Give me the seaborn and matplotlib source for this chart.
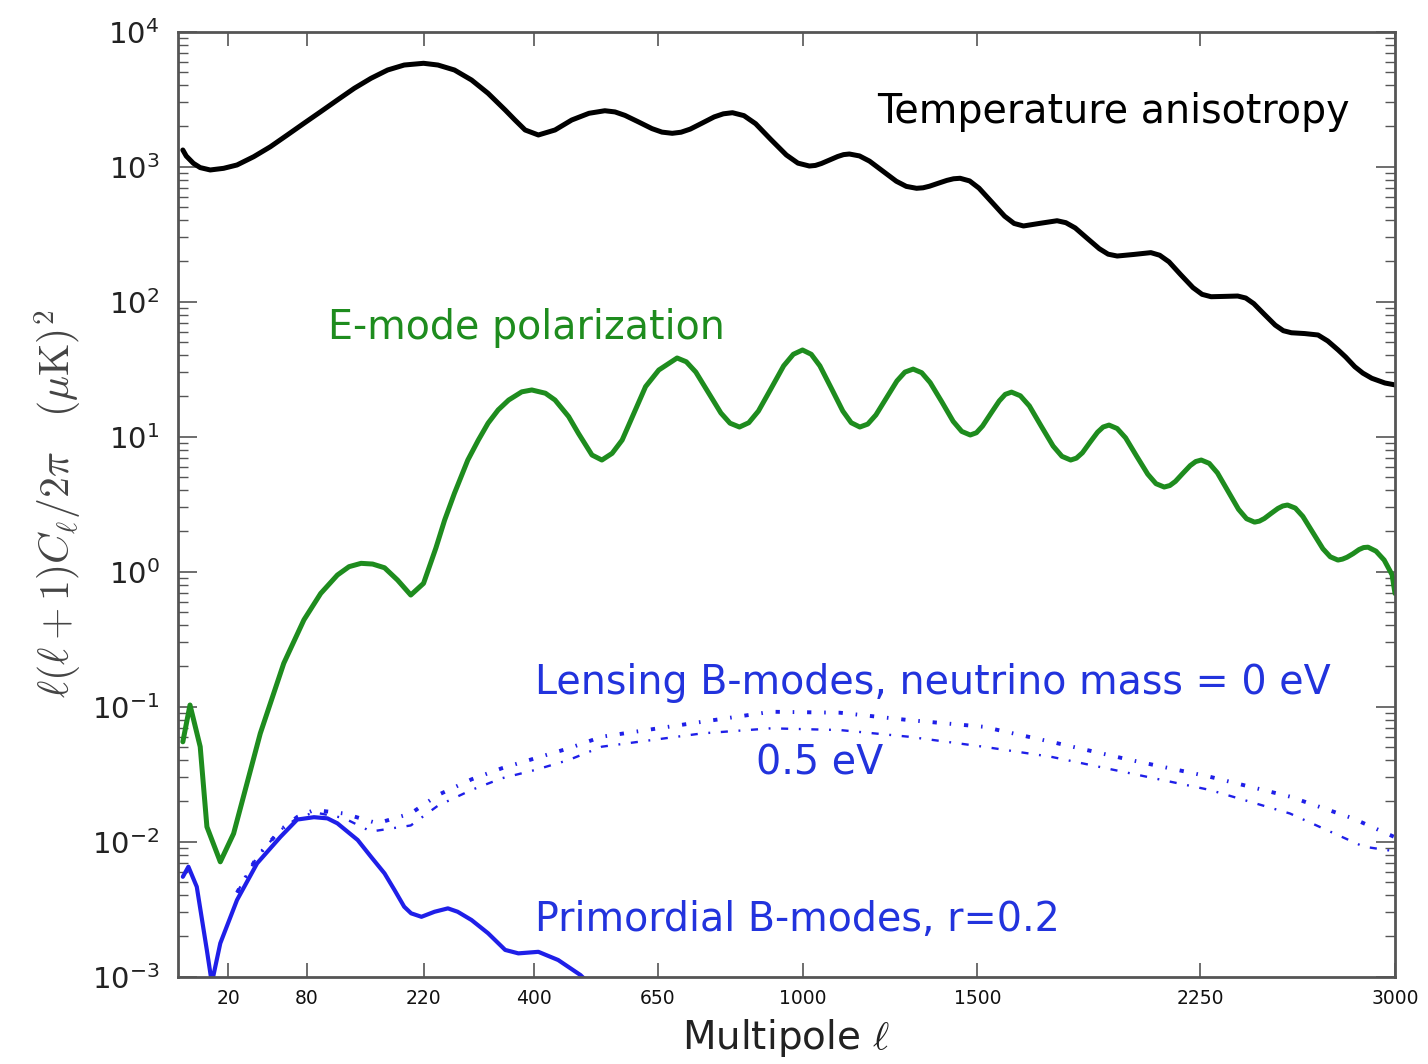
import numpy as np
import matplotlib
matplotlib.use("Agg")
import matplotlib.pyplot as plt
import seaborn as sns
from matplotlib.ticker import (NullLocator, FixedLocator, FixedFormatter,
                               NullFormatter, LogFormatterSciNotation)

# ---------------- data ----------------
ell_T = [2, 2.8, 4.8, 7.1, 11.1, 17.5, 25, 35.8, 48.1, 62, 77, 93.4, 111, 130, 150, 171, 193,
         220, 241, 266, 293, 320, 349, 366, 384, 408, 439, 471, 505,
         537, 558, 579, 608, 637, 659, 682, 702, 723, 751, 779, 801,
         823, 851, 880, 918, 958, 988, 1018, 1034, 1050, 1072, 1094, 1110,
         1126, 1154, 1182, 1220, 1258, 1287, 1317, 1336, 1355, 1381, 1407, 1427,
         1447, 1476, 1505, 1545, 1585, 1615, 1645, 1699, 1754, 1783, 1814, 1854,
         1895, 1925, 1956, 2014, 2073, 2104, 2137, 2179, 2223, 2256, 2289, 2337,
         2387, 2417, 2447, 2487, 2528, 2559, 2590, 2641, 2693, 2731, 2772, 2802,
         2838, 2870, 2906, 2959, 3000]
cl_T = [1330, 1200, 1060, 985, 946, 973, 1030, 1186, 1406, 1718, 2096, 2555, 3120, 3808, 4517,
        5204, 5665, 5835, 5665, 5204, 4387, 3497, 2630, 2218, 1871, 1718, 1871, 2218, 2487,
        2598, 2546, 2399, 2144, 1915, 1804, 1768, 1801, 1899, 2107, 2338, 2465,
        2512, 2390, 2082, 1594, 1221, 1063, 1012, 1022, 1056, 1121, 1190, 1229,
        1242, 1202, 1100, 926, 781, 715, 692, 698, 717, 754, 792, 814,
        821, 785, 694, 546, 430, 380, 364, 381, 398, 385, 352, 295,
        247, 225, 218, 224, 231, 221, 197.5, 158.5, 127.2, 113.4, 108.9, 109.5,
        110.2, 106.5, 96.8, 80.6, 67.1, 61.0, 58.9, 58.1, 56.7, 51.2, 43.9, 38.9,
        33.0, 29.6, 27.1, 25.0, 24.2]

ell_E = [2, 3.8, 7.1, 9.7, 15.8, 23, 40.5, 59, 77, 93.4, 111, 124, 138, 152, 167, 184,
         202, 220, 238,
         251, 266, 287, 304, 320, 337, 355, 378, 396, 421, 439, 465, 484, 511, 531, 552,
         573, 601, 623, 652,
         693, 714, 736, 765, 795, 817, 840, 863, 887, 919, 951, 976,
         1000, 1023, 1046, 1077, 1108, 1131, 1155, 1177, 1200, 1230, 1260, 1283,
         1307, 1332, 1357, 1392, 1426, 1452, 1478, 1497, 1516, 1542, 1568, 1587,
         1607, 1635, 1664, 1702, 1741, 1770, 1799, 1818, 1838, 1863, 1889, 1908,
         1928, 1956, 1985, 2023, 2062, 2091, 2120, 2140, 2160, 2186, 2213, 2233,
         2253, 2282, 2312, 2351, 2390, 2420, 2450, 2468, 2487, 2512, 2538, 2557,
         2575, 2605, 2634, 2673, 2712, 2741, 2771, 2789, 2807, 2831, 2855, 2873,
         2891, 2923, 2956, 2988, 3000]
cl_E = [0.055, 0.103, 0.0506, 0.0129, 0.0071, 0.0115, 0.0635, 0.21, 0.44, 0.69, 0.945,
        1.09, 1.154, 1.14, 1.07, 0.868, 0.672, 0.82, 1.5, 2.41, 3.81, 6.72, 9.45, 12.6,
        15.8, 18.7, 21.5, 22.2, 21.0, 18.7, 14.1, 10.6, 7.32, 6.72, 7.53, 9.45, 15.8,
        23.5, 31.2,
        38.3, 35.9, 30.1, 21.3, 15.0, 12.6, 11.8, 12.7, 15.5, 22.8, 33.5, 40.8,
        43.9, 40.8, 33.5, 22.8, 15.5, 12.7, 11.8, 12.4, 14.5, 19.4, 25.9, 30.1,
        31.7, 29.8, 25.2, 18.1, 13.0, 10.95, 10.3, 10.7, 12.0, 14.9, 18.4, 20.6,
        21.4, 20.1, 16.9, 12.0, 8.53, 7.16, 6.72, 6.94, 7.60, 9.06, 10.8, 11.8,
        12.2, 11.5, 9.81, 7.19, 5.28, 4.49, 4.24, 4.35, 4.67, 5.34, 6.11, 6.55,
        6.72, 6.35, 5.40, 3.96, 2.90, 2.47, 2.33, 2.37, 2.48, 2.70, 2.94, 3.07,
        3.12, 2.96, 2.57, 1.95, 1.48, 1.29, 1.22, 1.24, 1.28, 1.36, 1.46, 1.51,
        1.52, 1.42, 1.22, 0.95, 0.69]

ell_L0 = [25, 38, 56, 71, 87, 118, 158, 202, 241, 293, 343, 402, 465, 531, 751, 919,
          1100, 1293, 1518, 1734, 2002, 2284, 2584, 2830, 3000]
cl_L0 = [0.0042, 0.0077, 0.0122, 0.0153, 0.0172, 0.0162, 0.0137, 0.0162, 0.0222,
         0.029, 0.035, 0.0415, 0.0492, 0.060, 0.0774, 0.0918, 0.0903, 0.0797, 0.0711,
         0.055, 0.0403, 0.0303, 0.0216, 0.0149, 0.0108]

ell_L5 = [25, 38, 56, 71, 87, 118, 150, 202, 241, 293, 343, 402, 465, 531, 751, 919,
          1100, 1293, 1518, 1734, 2002, 2284, 2584, 2873, 3000]
cl_L5 = [0.0042, 0.0077, 0.0122, 0.015, 0.0165, 0.0150, 0.0119, 0.0132, 0.0185,
         0.0242, 0.0295, 0.034, 0.0403, 0.0506, 0.0635, 0.0692, 0.0672, 0.060, 0.0506,
         0.0426, 0.0321, 0.0242, 0.0162, 0.0092, 0.0085]

ell_P = [2, 3.36, 5.9, 9.66, 11.8, 15.8, 25, 38.2, 56.3, 70.8, 86.7, 100.4, 111, 134,
         150, 167, 180, 193, 202.5, 217, 236, 256, 271, 293, 320, 349, 372, 408, 445,
         488, 511]
cl_P = [0.0055, 0.00653, 0.00464, 0.00158, 0.0009, 0.00177, 0.0037, 0.00692, 0.01089,
        0.0146, 0.0152, 0.0149, 0.01369, 0.0103, 0.00774, 0.00583, 0.00439, 0.0033,
        0.00295, 0.00278, 0.00303, 0.00321, 0.00303, 0.00263, 0.0021, 0.00158, 0.00149,
        0.00153, 0.00133, 0.00103, 0.00085]

xticks = [20, 80, 220, 400, 650, 1000, 1500, 2250, 3000]
xtick_labels = ["20", "80", "220", "400", "650", "1000", "1500", "2250", "3000"]
yticks = [1e-3, 1e-2, 1e-1, 1e0, 1e1, 1e2, 1e3, 1e4]

# ---------------- style ----------------
sns.set_style("ticks")
plt.rcParams['font.family'] = ['DejaVu Sans']
plt.rcParams['axes.edgecolor'] = '#555555'

GREEN = '#1e8c1e'
BLUE = '#1f1fe8'
TBLUE = '#2233dd'
FS = 28.5

fig = plt.figure(figsize=(14.28, 10.64), dpi=100)
ax = fig.add_axes([0.1244, 0.0820, 0.8525, 0.8882])


def fwd(x):
    x = np.asarray(x, dtype=float)
    return np.sign(x) * np.abs(x) ** 0.6


def inv(y):
    y = np.asarray(y, dtype=float)
    return np.sign(y) * np.abs(y) ** (1 / 0.6)


ax.set_xscale('function', functions=(fwd, inv))
ax.set_yscale('log')

sns.lineplot(x=ell_T, y=cl_T, ax=ax, color='black', lw=3.6, estimator=None, sort=False)
sns.lineplot(x=ell_E, y=cl_E, ax=ax, color=GREEN, lw=3.6, estimator=None, sort=False)
sns.lineplot(x=ell_L0, y=cl_L0, ax=ax, color=BLUE, lw=2.8, estimator=None, sort=False,
             linestyle=(0, (1.1, 3.3, 0.4, 3.3)))
sns.lineplot(x=ell_L5, y=cl_L5, ax=ax, color=BLUE, lw=1.7, estimator=None, sort=False,
             linestyle=(0, (3.0, 4.5, 0.8, 4.5)))
sns.lineplot(x=ell_P, y=cl_P, ax=ax, color=BLUE, lw=3.0, estimator=None, sort=False)

ax.set_xlim(1, 3000)
ax.set_ylim(1e-3, 1e4)

ax.xaxis.set_major_locator(FixedLocator(xticks))
ax.xaxis.set_major_formatter(FixedFormatter(xtick_labels))
ax.xaxis.set_minor_locator(NullLocator())
ax.xaxis.set_minor_formatter(NullFormatter())
ax.yaxis.set_major_locator(FixedLocator(yticks))
ax.yaxis.set_major_formatter(LogFormatterSciNotation())
minor_y = [m * t for t in yticks[:-1] for m in range(2, 10)]
ax.yaxis.set_minor_locator(FixedLocator(minor_y))
ax.yaxis.set_minor_formatter(NullFormatter())

ax.tick_params(axis='x', which='major', direction='in', top=True, bottom=True,
               length=10, width=1.2, color='#555555', labelsize=13.5, pad=9,
               labelcolor='#111111')
ax.tick_params(axis='y', which='major', direction='in', left=True, right=True,
               length=14, width=1.2, color='#555555', labelsize=21, pad=13,
               labelcolor='#222222')
ax.tick_params(axis='y', which='minor', direction='in', left=True, right=True,
               length=7, width=1.0, color='#555555')
for s in ax.spines.values():
    s.set_linewidth(2.0)
    s.set_color('#555555')

ax.set_xlabel(r"Multipole $\ell$", fontsize=28, color='#222222', labelpad=6,
              math_fontfamily='cm')
ax.set_ylabel(r"$\ell(\ell+1)C_\ell/2\pi\ \ \ (\mu{\rm K})^2$", fontsize=30,
              color='#444444', labelpad=6, math_fontfamily='cm')

ax.text(0.5745, 0.915, "Temperature anisotropy", transform=ax.transAxes,
        fontsize=FS, color='black', ha='left', va='center')
ax.text(0.1236, 0.6865, "E-mode polarization", transform=ax.transAxes,
        fontsize=FS, color=GREEN, ha='left', va='center')
ax.text(0.2936, 0.3108, "Lensing B-modes, neutrino mass = 0 eV", transform=ax.transAxes,
        fontsize=FS, color=TBLUE, ha='left', va='center')
ax.text(0.475, 0.226, "0.5 eV", transform=ax.transAxes,
        fontsize=FS, color=TBLUE, ha='left', va='center')
ax.text(0.2936, 0.0600, "Primordial B-modes, r=0.2", transform=ax.transAxes,
        fontsize=FS, color=TBLUE, ha='left', va='center')

fig.savefig("out.png", dpi=100, facecolor='white')
